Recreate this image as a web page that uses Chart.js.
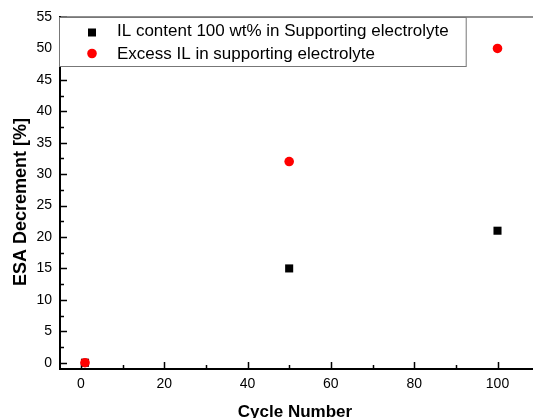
<!DOCTYPE html>
<html>
<head>
<meta charset="utf-8">
<script src="https://cdn.jsdelivr.net/npm/chart.js@4.4.0/dist/chart.umd.min.js"></script>
<style>
  html, body { margin: 0; padding: 0; background: #fff; overflow: hidden; }
  #wrap { width: 533px; height: 418px; overflow: hidden; }
  canvas { display: block; }
</style>
</head>
<body>
<div id="wrap"><canvas id="myChart" width="566" height="430"></canvas></div>
<script>
// cycle numbers and ESA decrement (%) for both electrolytes
const cycles = [1, 50, 100];
const ilContent = [0, 15, 21];
const excessIL = [0, 32, 50];
const seriesLabels = [
    'IL content 100 wt% in Supporting electrolyte',
    'Excess IL in supporting electrolyte'
];

const xTicks = [0, 20, 40, 60, 80, 100];
const xMinorTicks = [10, 30, 50, 70, 90, 110];
const yTicks = [0, 5, 10, 15, 20, 25, 30, 35, 40, 45, 50, 55];
const yMinorTicks = [2.5, 7.5, 12.5, 17.5, 22.5, 27.5, 32.5, 37.5, 42.5, 47.5, 52.5];

const xTitle = 'Cycle Number';
const yTitle = 'ESA Decrement [%]';

const fontFamily = "'Liberation Sans', Arial, sans-serif";

const toPoints = (xs, ys) => xs.map((x, i) => ({x: x, y: ys[i]}));

// inward tick marks and the top frame line
const axisTicks = {
    id: 'axisTicks',
    beforeDatasetsDraw(chart) {
        const {ctx, chartArea: area, scales: {x, y}} = chart;
        ctx.save();
        ctx.strokeStyle = '#000';
        ctx.lineWidth = 1.5;
        ctx.beginPath();
        xTicks.forEach(v => {
            const px = Math.round(x.getPixelForValue(v)) + 0.5;
            ctx.moveTo(px, area.bottom);
            ctx.lineTo(px, area.bottom - 7);
        });
        xMinorTicks.forEach(v => {
            const px = Math.round(x.getPixelForValue(v)) + 0.5;
            ctx.moveTo(px, area.bottom);
            ctx.lineTo(px, area.bottom - 4);
        });
        yTicks.forEach(v => {
            const py = Math.round(y.getPixelForValue(v)) + 0.5;
            ctx.moveTo(area.left, py);
            ctx.lineTo(area.left + 7, py);
        });
        yMinorTicks.forEach(v => {
            const py = Math.round(y.getPixelForValue(v)) + 0.5;
            ctx.moveTo(area.left, py);
            ctx.lineTo(area.left + 4, py);
        });
        ctx.stroke();

        ctx.lineWidth = 1.2;
        ctx.strokeStyle = '#222';
        ctx.beginPath();
        ctx.moveTo(area.left, area.top);
        ctx.lineTo(area.right, area.top);
        ctx.stroke();
        ctx.restore();
    }
};

// boxed legend in the upper left corner, plus the axis titles
const boxLegend = {
    id: 'boxLegend',
    afterDraw(chart) {
        const {ctx, chartArea: area} = chart;
        const ds = chart.data.datasets;
        ctx.save();
        ctx.font = '17px ' + fontFamily;

        const textX = area.left + 57;
        const markX = area.left + 32;
        const widest = Math.max(...seriesLabels.map(s => ctx.measureText(s).width));
        const boxLeft = area.left - 1;
        const boxTop = area.top;
        const boxW = textX + widest + 17 - boxLeft;
        const boxH = 49;

        ctx.fillStyle = '#fff';
        ctx.fillRect(boxLeft, boxTop, boxW, boxH);
        ctx.strokeStyle = '#777';
        ctx.lineWidth = 1;
        ctx.strokeRect(boxLeft + 0.5, boxTop + 0.5, boxW, boxH);

        const rows = [area.top + 15.5, area.top + 36.5];
        const baselines = [area.top + 19, area.top + 41.5];
        seriesLabels.forEach((label, i) => {
            const d = ds[i];
            ctx.fillStyle = d.backgroundColor;
            if (d.pointStyle === 'rect') {
                ctx.fillRect(markX - 4, rows[i] - 4, 8, 8);
            } else {
                ctx.beginPath();
                ctx.arc(markX, rows[i], d.pointRadius, 0, Math.PI * 2);
                ctx.fill();
            }
            ctx.fillStyle = '#000';
            ctx.textAlign = 'left';
            ctx.textBaseline = 'alphabetic';
            ctx.fillText(label, textX, baselines[i]);
        });

        // axis titles
        ctx.fillStyle = '#000';
        ctx.font = 'bold 17px ' + fontFamily;
        ctx.textAlign = 'center';
        ctx.textBaseline = 'alphabetic';
        ctx.fillText(xTitle, 295, 417);

        ctx.translate(21, 202);
        ctx.rotate(-Math.PI / 2);
        ctx.font = 'bold 18px ' + fontFamily;
        ctx.textBaseline = 'middle';
        ctx.fillText(yTitle, 0, 0);
        ctx.restore();
    }
};

const data = {
    datasets: [{
        label: seriesLabels[0],
        data: toPoints(cycles, ilContent),
        pointStyle: 'rect',
        pointRadius: 5.7,
        backgroundColor: '#000',
        borderColor: '#000',
        borderWidth: 0,
        order: 1
    }, {
        label: seriesLabels[1],
        data: toPoints(cycles, excessIL),
        pointStyle: 'circle',
        pointRadius: 4.8,
        backgroundColor: '#ff0000',
        borderColor: '#ff0000',
        borderWidth: 0,
        order: 0
    }]
};

const tickFont = {family: fontFamily, size: 14};

const options = {
    type: 'scatter',
    data: data,
    plugins: [axisTicks, boxLegend],
    options: {
        responsive: false,
        devicePixelRatio: 1,
        animation: false,
        layout: {padding: {top: 17, right: 6, bottom: 0, left: 0}},
        plugins: {
            legend: {display: false},
            tooltip: {enabled: false}
        },
        scales: {
            x: {
                type: 'linear',
                min: -5,
                max: 115,
                afterBuildTicks: (scale) => {
                    scale.ticks = xTicks.map(v => ({value: v}));
                },
                afterFit: (scale) => {
                    scale.height = 61;
                },
                grid: {display: false, drawTicks: false},
                border: {display: true, color: '#000', width: 2},
                ticks: {color: '#000', font: tickFont, padding: 7, maxRotation: 0}
            },
            y: {
                type: 'linear',
                min: -1,
                max: 55,
                afterBuildTicks: (scale) => {
                    scale.ticks = yTicks.map(v => ({value: v}));
                },
                afterFit: (scale) => {
                    scale.width = 60;
                },
                grid: {display: false, drawTicks: false},
                border: {display: true, color: '#000', width: 2},
                ticks: {color: '#000', font: tickFont, padding: 8}
            }
        }
    }
};

const chart = new Chart(document.getElementById('myChart').getContext('2d'), options);
</script>
</body>
</html>
